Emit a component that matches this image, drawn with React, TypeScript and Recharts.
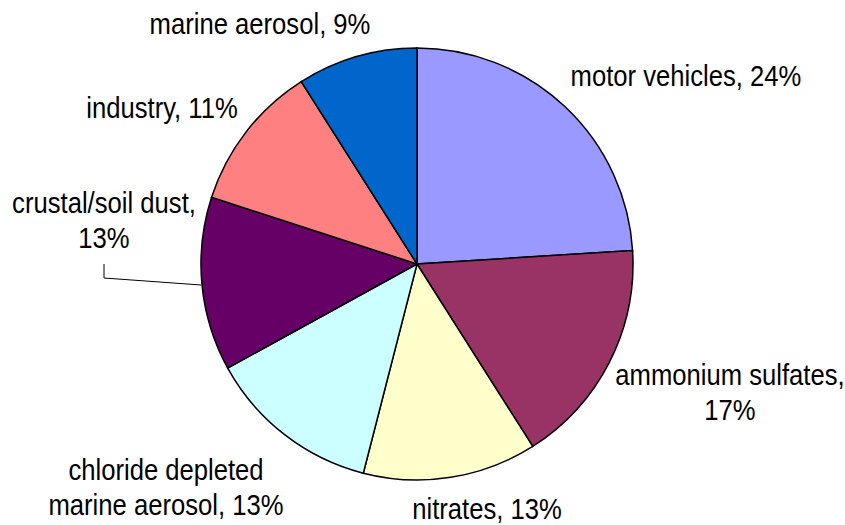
import { Pie, PieChart, Cell } from "recharts";

const sources = [
  "motor vehicles",
  "ammonium sulfates",
  "nitrates",
  "chloride depleted marine aerosol",
  "crustal/soil dust",
  "industry",
  "marine aerosol",
];
const shares = [24, 17, 13, 13, 13, 11, 9];
const colors = ["#9999FF", "#993366", "#FFFFCC", "#CCFFFF", "#660066", "#FF8080", "#0066CC"];

// label text lines per slice
const labelLines = [
  ["motor vehicles, 24%"],
  ["ammonium sulfates,", "17%"],
  ["nitrates, 13%"],
  ["chloride depleted", "marine aerosol, 13%"],
  ["crustal/soil dust,", "13%"],
  ["industry, 11%"],
  ["marine aerosol, 9%"],
];
// label anchor (center x, first baseline) relative to pie center
const labelPos = [
  [269, -178],
  [313, 121],
  [70, 255],
  [-251, 216],
  [-313, -51],
  [-255, -146],
  [-157, -230],
];

const data = sources.map((name, i) => ({ name, value: shares[i] }));

const FONT = "'Liberation Sans', Arial, sans-serif";

function renderLabel(props: any) {
  const { cx, cy, index } = props;
  const [dx, dy] = labelPos[index];
  // condensed look: wider size squeezed horizontally
  return (
    <text
      transform={`translate(${cx + dx},${cy + dy}) scale(0.855,1)`}
      x={0}
      y={0}
      textAnchor="middle"
      fontFamily={FONT}
      fontSize={30}
      fill="#000"
    >
      {labelLines[index].map((t, k) => (
        <tspan key={k} x={0} dy={k === 0 ? 0 : 35}>
          {t}
        </tspan>
      ))}
    </text>
  );
}

function renderLabelLine(props: any) {
  const { cx, cy, index } = props;
  if (index !== 4) return <g />;
  const x0 = cx - 313;
  return (
    <path
      d={`M${x0},${cy} L${x0},${cy + 14} L${cx - 216},${cy + 21}`}
      stroke="#000"
      strokeWidth={1}
      fill="none"
    />
  );
}

export default function App() {
  return (
    <div style={{ position: "absolute", left: 0, top: 0, width: 845, height: 525, background: "#fff" }}>
      <PieChart width={845} height={525}>
        <Pie
          data={data}
          dataKey="value"
          cx={412}
          cy={259}
          outerRadius={216}
          startAngle={90}
          endAngle={-270}
          stroke="#000"
          strokeWidth={1.5}
          label={renderLabel}
          labelLine={renderLabelLine}
          isAnimationActive={false}
        >
          {data.map((d, i) => (
            <Cell key={d.name} fill={colors[i]} />
          ))}
        </Pie>
      </PieChart>
    </div>
  );
}
